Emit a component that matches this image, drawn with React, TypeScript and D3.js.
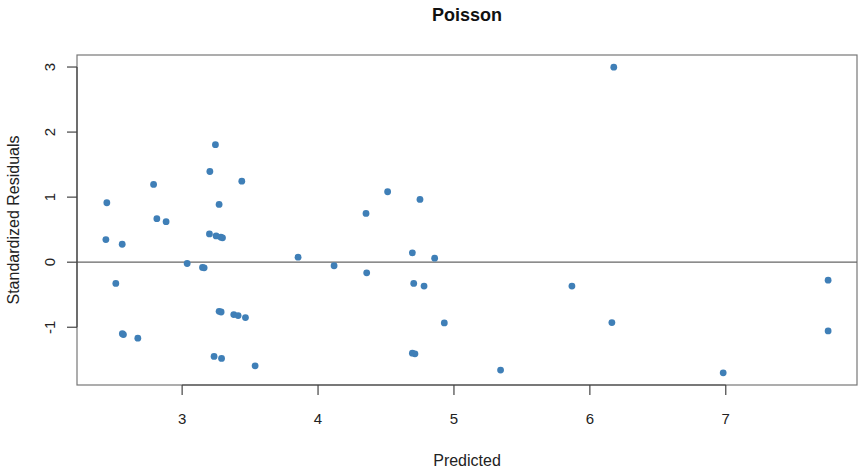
import React from "react";
import * as d3 from "d3";

const predicted = [
  3.245, 3.204, 3.439, 2.79, 2.446, 3.272, 2.814, 2.882, 2.439, 2.559,
  3.201, 3.25, 3.285, 3.297, 3.037, 3.15, 3.162, 3.853, 4.118, 2.512,
  3.272, 3.287, 3.38, 3.412, 3.466, 2.56, 2.568, 2.674, 3.235, 3.29,
  3.537, 6.176, 4.512, 4.75, 4.353, 4.694, 4.858, 4.358, 4.704, 4.78,
  5.868, 4.929, 6.162, 4.694, 4.713, 5.343, 7.753, 7.753, 6.981,
];
const residuals = [
  1.807, 1.394, 1.246, 1.195, 0.914, 0.888, 0.669, 0.623, 0.348, 0.276,
  0.435, 0.404, 0.385, 0.375, -0.02, -0.08, -0.086, 0.077, -0.055, -0.326,
  -0.755, -0.766, -0.806, -0.821, -0.852, -1.1, -1.112, -1.168, -1.449, -1.48,
  -1.593, 2.997, 1.083, 0.965, 0.75, 0.144, 0.061, -0.163, -0.326, -0.367,
  -0.367, -0.934, -0.929, -1.398, -1.409, -1.659, -0.276, -1.057, -1.7,
];
const xTicks = [3, 4, 5, 6, 7];
const yTicks = [-1, 0, 1, 2, 3];
const title = "Poisson";
const xLabel = "Predicted";
const yLabel = "Standardized Residuals";

const W = 858;
const H = 468;
const L = 77, R = 857, T = 55, B = 385;

function pad(ext: [number, number]): [number, number] {
  const d = (ext[1] - ext[0]) * 0.04;
  return [ext[0] - d, ext[1] + d];
}

export default function App() {
  const x = d3.scaleLinear().domain(pad(d3.extent(predicted) as [number, number])).range([L, R]);
  const y = d3.scaleLinear().domain(pad(d3.extent(residuals) as [number, number])).range([B, T]);
  const font = "'Liberation Sans', Arial, Helvetica, sans-serif";
  const textColor = "#222";
  const axisColor = "#444";
  return (
    <svg width={W} height={H} style={{ position: "absolute", left: 0, top: 0, background: "#fff" }} fontFamily={font}>
      <text x={(L + R) / 2} y={21} textAnchor="middle" fontSize={18} fontWeight="bold" fill="#111">{title}</text>
      <rect x={L} y={T} width={R - L} height={B - T} fill="none" stroke="#777" strokeWidth={1.2} />
      <line x1={L} x2={R} y1={y(0)} y2={y(0)} stroke="#666" strokeWidth={1.2} />
      {/* x axis */}
      <line x1={x(xTicks[0])} x2={x(xTicks[xTicks.length - 1])} y1={B} y2={B} stroke={axisColor} strokeWidth={1.2} />
      {xTicks.map((t) => (
        <g key={"x" + t}>
          <line x1={x(t)} x2={x(t)} y1={B} y2={B + 10} stroke={axisColor} strokeWidth={1.2} />
          <text x={x(t)} y={424} textAnchor="middle" fontSize={15} fill={textColor}>{t}</text>
        </g>
      ))}
      {/* y axis */}
      <line x1={L} x2={L} y1={y(yTicks[0])} y2={y(yTicks[yTicks.length - 1])} stroke={axisColor} strokeWidth={1.2} />
      {yTicks.map((t) => (
        <g key={"y" + t}>
          <line x1={L - 10} x2={L} y1={y(t)} y2={y(t)} stroke={axisColor} strokeWidth={1.2} />
          <text transform={`translate(55,${y(t)}) rotate(-90)`} textAnchor="middle" fontSize={15} fill={textColor}>{t}</text>
        </g>
      ))}
      <text x={(L + R) / 2} y={466} textAnchor="middle" fontSize={16} fill={textColor}>{xLabel}</text>
      <text transform={`translate(19,${(T + B) / 2}) rotate(-90)`} textAnchor="middle" fontSize={16} fill={textColor}>{yLabel}</text>
      {predicted.map((p, i) => (
        <circle key={i} cx={x(p)} cy={y(residuals[i])} r={3.4} fill="#3f7fb7" />
      ))}
    </svg>
  );
}
